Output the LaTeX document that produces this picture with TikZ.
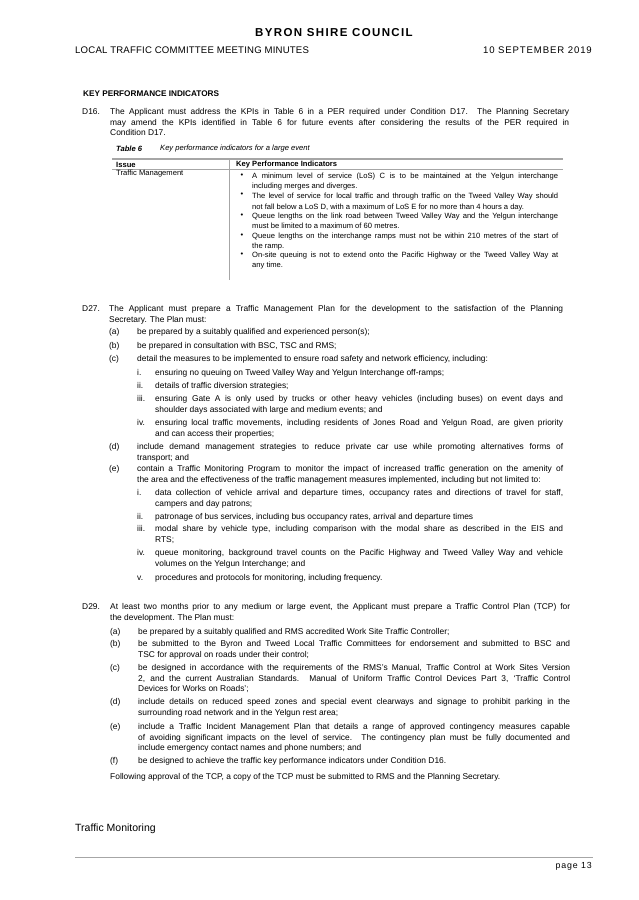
\documentclass[tikz,border=0pt]{standalone}
\usepackage{fontspec}
\setmainfont{Liberation Sans}
\newcommand\tb[6]{\node[txt,text width=#5pt,font=#6] (#1) at (#2,{#3-4.5}) {\strut#4};}
\newcommand\bodyf{\fontsize{8.4}{10.4}\selectfont}
\newcommand\tabf{\fontsize{7.6}{9.8}\selectfont}
\tikzset{txt/.style={anchor=north west,inner sep=0pt,align=justify},
 lab/.style={anchor=base west,inner sep=0pt,font=\bodyf},
 rule/.style={draw=gray!70}}
\begin{document}
\begin{tikzpicture}[x=1pt,y=-1pt]
\useasboundingbox[fill=white] (0,0) rectangle (638,900);
% header
\node[inner sep=0] (hd) at (334,33) {\fontsize{11.5}{12}\selectfont\bfseries\addfontfeature{LetterSpace=12}BYRON SHIRE COUNCIL};
\node[anchor=west,inner sep=0] (hl) at (75,50) {\fontsize{9.6}{11}\selectfont\addfontfeature{LetterSpace=2}LOCAL TRAFFIC COMMITTEE MEETING MINUTES};
\node[anchor=east,inner sep=0] (hr) at (592,50) {\fontsize{9.6}{11}\selectfont\addfontfeature{LetterSpace=9}10 SEPTEMBER 2019};
% KPI
\node[anchor=west,inner sep=0] (kpi) at (83,94) {\fontsize{8.2}{9}\selectfont\bfseries KEY PERFORMANCE INDICATORS};
\node[lab] (d16l) at (82,114.8) {D16.};
\tb{d16}{110}{112}{The Applicant must address the KPIs in Table 6 in a PER required under Condition D17. The Planning Secretary\linebreak may amend the KPIs identified in Table 6 for future events after considering the results of the PER required in\linebreak Condition D17.}{459}{\bodyf}
\node[anchor=west,inner sep=0] (cap) at (116,149) {\tabf\bfseries\itshape Table 6};
\node[anchor=west,inner sep=0] (capt) at (160,149) {\tabf\itshape Key performance indicators for a large event};
% table
\coordinate (tl) at (112,159); \coordinate (tr) at (563,159);
\coordinate (hl1) at (112,169); \coordinate (hr1) at (563,169);
\coordinate (vt) at (229,159); \coordinate (vb) at (229,280);
\draw[rule,line width=1.6pt] (tl) -- (tr);
\draw[rule,line width=0.8pt] (hl1) -- (hr1);
\draw[rule,line width=0.5pt] (vt) -- (vb);
\node[anchor=west,inner sep=0] (th1) at (116,164.5) {\tabf\bfseries Issue};
\node[anchor=west,inner sep=0] (th2) at (236,164.5) {\tabf\bfseries Key Performance Indicators};
\node[anchor=west,inner sep=0] (tm) at (116,174) {\tabf Traffic Management};
\foreach \y/\n in {176/1,195/2,216/3,236/4,255/5}{\node[inner sep=0] (b\n) at (242,\y) {\tabf\textbullet};}
\tb{k1}{252}{176}{A minimum level of service (LoS) C is to be maintained at the Yelgun interchange\linebreak including merges and diverges.}{306}{\tabf}
\tb{k2}{252}{195}{The level of service for local traffic and through traffic on the Tweed Valley Way should\linebreak not fall below a LoS D, with a maximum of LoS E for no more than 4 hours a day.}{306}{\fontsize{7.6}{10.8}\selectfont}
\tb{k3}{252}{216}{Queue lengths on the link road between Tweed Valley Way and the Yelgun interchange\linebreak must be limited to a maximum of 60 metres.}{306}{\tabf}
\tb{k4}{252}{236}{Queue lengths on the interchange ramps must not be within 210 metres of the start of\linebreak the ramp.}{306}{\tabf}
\tb{k5}{252}{255}{On-site queuing is not to extend onto the Pacific Highway or the Tweed Valley Way at\linebreak any time.}{306}{\tabf}
% D27
\node[lab] (d27l) at (82,311.8) {D27.};
\tb{d27}{109}{309}{The Applicant must prepare a Traffic Management Plan for the development to the satisfaction of the Planning\linebreak Secretary. The Plan must:}{454}{\bodyf}
\foreach \y/\l/\n in {332/(a)/a,346/(b)/b,359/(c)/c,447/(d)/d,469/(e)/e}{\node[lab] (e27\n) at (109,\y+2.8) {\l};}
\tb{t27a}{137}{332}{be prepared by a suitably qualified and experienced person(s);}{426}{\bodyf}
\tb{t27b}{137}{346}{be prepared in consultation with BSC, TSC and RMS;}{426}{\bodyf}
\tb{t27c}{137}{359}{detail the measures to be implemented to ensure road safety and network efficiency, including:}{426}{\bodyf}
\foreach \y/\l/\n in {373/i./a,386/ii./b,399/iii./c,423/iv./d,493/i./e,517/ii./f,529/iii./g,553/iv./h,578/v./i}{\node[lab] (r\n) at (137,\y+2.8) {\l};}
\tb{t27ci}{155}{373}{ensuring no queuing on Tweed Valley Way and Yelgun Interchange off-ramps;}{408}{\bodyf}
\tb{t27cii}{155}{386}{details of traffic diversion strategies;}{408}{\bodyf}
\tb{t27ciii}{155}{399}{ensuring Gate A is only used by trucks or other heavy vehicles (including buses) on event days and\linebreak shoulder days associated with large and medium events; and}{408}{\bodyf}
\tb{t27civ}{155}{423}{ensuring local traffic movements, including residents of Jones Road and Yelgun Road, are given priority\linebreak and can access their properties;}{408}{\bodyf}
\tb{t27d}{137}{447}{include demand management strategies to reduce private car use while promoting alternatives forms of\linebreak transport; and}{426}{\bodyf}
\tb{t27e}{137}{469}{contain a Traffic Monitoring Program to monitor the impact of increased traffic generation on the amenity of\linebreak the area and the effectiveness of the traffic management measures implemented, including but not limited to:}{426}{\bodyf}
\tb{t27ei}{155}{493}{data collection of vehicle arrival and departure times, occupancy rates and directions of travel for staff,\linebreak campers and day patrons;}{408}{\bodyf}
\tb{t27eii}{155}{517}{patronage of bus services, including bus occupancy rates, arrival and departure times}{408}{\bodyf}
\tb{t27eiii}{155}{529}{modal share by vehicle type, including comparison with the modal share as described in the EIS and\linebreak RTS;}{408}{\bodyf}
\tb{t27eiv}{155}{553}{queue monitoring, background travel counts on the Pacific Highway and Tweed Valley Way and vehicle\linebreak volumes on the Yelgun Interchange; and}{408}{\bodyf}
\tb{t27ev}{155}{578}{procedures and protocols for monitoring, including frequency.}{408}{\bodyf}
% D29
\node[lab] (d29l) at (82,609.8) {D29.};
\tb{d29}{110}{607}{At least two months prior to any medium or large event, the Applicant must prepare a Traffic Control Plan (TCP) for\linebreak the development. The Plan must:}{460}{\bodyf}
\foreach \y/\l/\n in {632/(a)/a,644/(b)/b,668/(c)/c,702/(d)/d,727/(e)/e,761/(f)/f}{\node[lab] (e29\n) at (110,\y+2.8) {\l};}
\tb{t29a}{138}{632}{be prepared by a suitably qualified and RMS accredited Work Site Traffic Controller;}{432}{\bodyf}
\tb{t29b}{138}{644}{be submitted to the Byron and Tweed Local Traffic Committees for endorsement and submitted to BSC and\linebreak TSC for approval on roads under their control;}{432}{\bodyf}
\tb{t29c}{138}{668}{be designed in accordance with the requirements of the RMS's Manual, Traffic Control at Work Sites Version\linebreak 2, and the current Australian Standards. Manual of Uniform Traffic Control Devices Part 3, `Traffic Control\linebreak Devices for Works on Roads';}{432}{\bodyf}
\tb{t29d}{138}{702}{include details on reduced speed zones and special event clearways and signage to prohibit parking in the\linebreak surrounding road network and in the Yelgun rest area;}{432}{\bodyf}
\tb{t29e}{138}{727}{include a Traffic Incident Management Plan that details a range of approved contingency measures capable\linebreak of avoiding significant impacts on the level of service. The contingency plan must be fully documented and\linebreak include emergency contact names and phone numbers; and}{432}{\bodyf}
\tb{t29f}{138}{761}{be designed to achieve the traffic key performance indicators under Condition D16.}{432}{\bodyf}
\tb{t29g}{110}{777}{Following approval of the TCP, a copy of the TCP must be submitted to RMS and the Planning Secretary.}{460}{\bodyf}
% footer
\node[anchor=west,inner sep=0] (tmon) at (75,829) {\fontsize{10.5}{12}\selectfont Traffic Monitoring};
\coordinate (fl) at (75,857); \coordinate (fr) at (593,857);
\draw[rule,line width=0.5pt] (fl) -- (fr);
\node[anchor=east,inner sep=0] (pg) at (592,866) {\fontsize{8.8}{10}\selectfont\addfontfeature{LetterSpace=10}page 13};
\end{tikzpicture}
\end{document}
